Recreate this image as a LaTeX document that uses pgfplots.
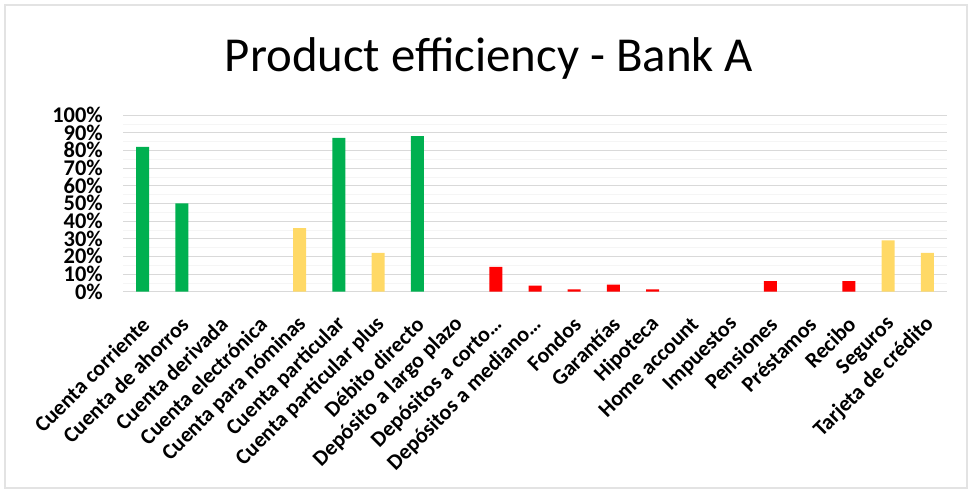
\documentclass[border=0pt]{standalone}
\usepackage{pgfplots}
\pgfplotsset{compat=1.18}
\usepackage{fontspec}
\setmainfont{Carlito}
\definecolor{cgreen}{HTML}{00B050}
\definecolor{cyellow}{HTML}{FFD966}
\definecolor{cred}{HTML}{FF0000}
\definecolor{gridc}{HTML}{D9D9D9}
\begin{document}
\begin{tikzpicture}
\useasboundingbox (0,0) rectangle (973bp,489bp);
\draw[gray!22, line width=2bp] (5bp,1bp) rectangle (967bp,484bp);
\node[font=\fontsize{49}{58}\selectfont, anchor=base] at (489bp,417.3bp) {Product efficiency - Bank A};
\begin{axis}[
  at={(123bp,197.3bp)}, anchor=south west, scale only axis,
  width=824bp, height=176.7bp,
  xmin=-0.5, xmax=20.5, ymin=0, ymax=100,
  axis line style={draw=none},
  tick style={draw=none},
  ytick={0,10,...,100}, minor ytick={5,15,...,95},
  ymajorgrids, yminorgrids,
  major grid style={gridc, line width=0.8bp},
  minor grid style={gray!8, line width=0.6bp},
  /pgf/number format/assume math mode=true,
  yticklabel={\pgfmathprintnumber{\tick}\%},
  yticklabel style={font=\fontsize{22.5}{22.5}\selectfont\bfseries, anchor=east, inner sep=0pt, xshift=-20bp},
  xtick={0,...,20},
  xticklabels={Cuenta corriente, Cuenta de ahorros, Cuenta derivada, Cuenta electrónica, Cuenta para nóminas, Cuenta particular, Cuenta particular plus, Débito directo, Depósito a largo plazo, {Depósitos a corto\ldots}, {Depósitos a mediano\ldots}, Fondos, Garantías, Hipoteca, Home account, Impuestos, Pensiones, Préstamos, Recibo, Seguros, Tarjeta de crédito},
  xticklabel style={font=\fontsize{22}{22}\selectfont\bfseries, xshift=3bp, yshift=-29bp, rotate=45, anchor=east, inner sep=0pt},
  bar width=13bp,
]
\addplot[ybar, bar shift=0pt, fill=cgreen, draw=none] coordinates {(0,82) (1,50) (5,87) (7,88)};
\addplot[ybar, bar shift=0pt, fill=cyellow, draw=none] coordinates {(4,36) (6,22) (19,29) (20,22)};
\addplot[ybar, bar shift=0pt, fill=cred, draw=none] coordinates {(9,14) (10,3.5) (11,1.3) (12,4) (13,1.3) (16,6) (18,6)};
\end{axis}
\end{tikzpicture}
\end{document}
